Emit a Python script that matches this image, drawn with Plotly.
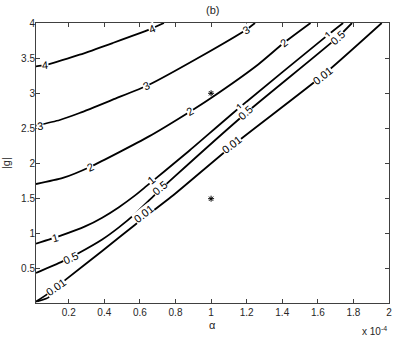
import plotly.graph_objects as go

# contour lines (alpha in units of 1e-4)
c4_x = [0.016, 0.066, 0.261, 0.447, 0.651, 0.735]
c4_y = [3.383, 3.400, 3.549, 3.715, 3.905, 4.0]

c3_x = [0.016, 0.15, 0.261, 0.447, 0.651, 0.929, 1.197, 1.247]
c3_y = [2.539, 2.62, 2.719, 2.909, 3.122, 3.506, 3.905, 4.0]

c2_x = [0.016, 0.167, 0.322, 0.651, 0.883, 1.002, 1.263, 1.408, 1.559]
c2_y = [1.709, 1.795, 1.955, 2.387, 2.742, 2.937, 3.407, 3.715, 4.0]

c1_x = [0.016, 0.155, 0.295, 0.388, 0.480, 0.573, 0.638, 0.735, 0.874, 1.162, 1.659, 1.742]
c1_y = [0.860, 0.974, 1.109, 1.230, 1.376, 1.547, 1.682, 1.884, 2.176, 2.802, 3.834, 4.0]

c05_x = [0.016, 0.165, 0.257, 0.388, 0.480, 0.573, 0.675, 0.796, 1.197, 1.709, 1.792]
c05_y = [0.443, 0.608, 0.728, 0.920, 1.089, 1.285, 1.533, 1.817, 2.720, 3.791, 4.0]

c001_x = [0.016, 0.094, 0.183, 0.388, 0.573, 0.796, 1.119, 1.625, 1.959]
c001_y = [0.035, 0.167, 0.348, 0.756, 1.130, 1.567, 2.254, 3.250, 4.0]

hook_x = [0.094, 0.090, 0.023]
hook_y = [0.167, 0.101, 0.039]

# contour labels
label_text = ['4', '4', '3', '3', '3', '2', '2', '2',
              '1', '1', '1', '1', '0.5', '0.5', '0.5', '0.5',
              '0.01', '0.01', '0.01', '0.01']
label_x = [0.066, 0.668, 0.040, 0.634, 1.197, 0.322, 0.883, 1.408,
           0.122, 0.662, 1.162, 1.659, 0.211, 0.712, 1.191, 1.709,
           0.128, 0.619, 1.113, 1.625]
label_y = [3.40, 3.92, 2.54, 3.11, 3.905, 1.955, 2.742, 3.715,
           0.945, 1.77, 2.802, 3.834, 0.66, 1.657, 2.72, 3.791,
           0.248, 1.287, 2.268, 3.25]
label_angle = [-5, -22, -5, -25, -30, -25, -30, -38,
               -15, -40, -42, -42, -25, -40, -42, -42,
               -35, -38, -38, -38]

# star markers
star_x = [1.0, 1.0]
star_y = [3.0, 1.5]

x_ticks = [0.2, 0.4, 0.6, 0.8, 1.0, 1.2, 1.4, 1.6, 1.8, 2.0]
x_ticktext = ['0.2', '0.4', '0.6', '0.8', '1', '1.2', '1.4', '1.6', '1.8', '2']
y_ticks = [0.5, 1, 1.5, 2, 2.5, 3, 3.5, 4]
y_ticktext = ['0.5', '1', '1.5', '2', '2.5', '3', '3.5', '4']

fig = go.Figure()

line_style = dict(color='black', width=1.8, shape='spline', smoothing=0.6)
for xs, ys in [(c4_x, c4_y), (c3_x, c3_y), (c2_x, c2_y), (c1_x, c1_y),
               (c05_x, c05_y), (c001_x, c001_y), (hook_x, hook_y)]:
    fig.add_trace(go.Scatter(x=xs, y=ys, mode='lines', line=line_style,
                             showlegend=False, hoverinfo='skip'))

fig.add_trace(go.Scatter(
    x=star_x, y=star_y, mode='markers', showlegend=False,
    marker=dict(symbol='asterisk-open', size=5, color='black',
                line=dict(width=1, color='black'))
))

for t, lx, ly, ang in zip(label_text, label_x, label_y, label_angle):
    fig.add_annotation(x=lx, y=ly, text=t, showarrow=False, textangle=ang,
                       bgcolor='white', borderpad=0,
                       font=dict(size=11, color='black'))

axis_style = dict(showline=True, linecolor='#404040', linewidth=1, mirror='ticks',
                  ticks='inside', ticklen=4, tickcolor='#404040',
                  showgrid=False, zeroline=False,
                  tickfont=dict(size=10, color='#262626'))

fig.update_layout(
    width=399, height=337,
    margin=dict(l=36, r=7, t=23, b=34),
    paper_bgcolor='white', plot_bgcolor='white',
    font=dict(family='Liberation Sans, Arial, sans-serif', color='#262626'),
    xaxis=dict(range=[0.016, 2.0], tickvals=x_ticks, ticktext=x_ticktext, **axis_style),
    yaxis=dict(range=[0.016, 4.0], tickvals=y_ticks, ticktext=y_ticktext,
               ticklabelstandoff=-2, **axis_style),
)

# titles, MATLAB-style exponent
fig.add_annotation(x=0.5, y=1, xref='paper', yref='paper', yanchor='bottom', yshift=5,
                   text='(b)', showarrow=False, font=dict(size=11))
fig.add_annotation(x=0.5, y=0, xref='paper', yref='paper', yanchor='top', yshift=-14,
                   text='α', showarrow=False, font=dict(size=11))
fig.add_annotation(x=0, y=0.5, xref='paper', yref='paper', xanchor='right', xshift=-22,
                   text='|g|', textangle=-90, showarrow=False, font=dict(size=11))
fig.add_annotation(x=1, y=0, xref='paper', yref='paper', xanchor='right', yanchor='top',
                   xshift=0, yshift=-20, text='x 10<sup>-4</sup>', showarrow=False,
                   font=dict(size=10))

# drop the default page margin so the figure sits at the window's corner
fig.write_html("out.html", config={'displayModeBar': False},
               post_script="document.body.style.margin='0';")
